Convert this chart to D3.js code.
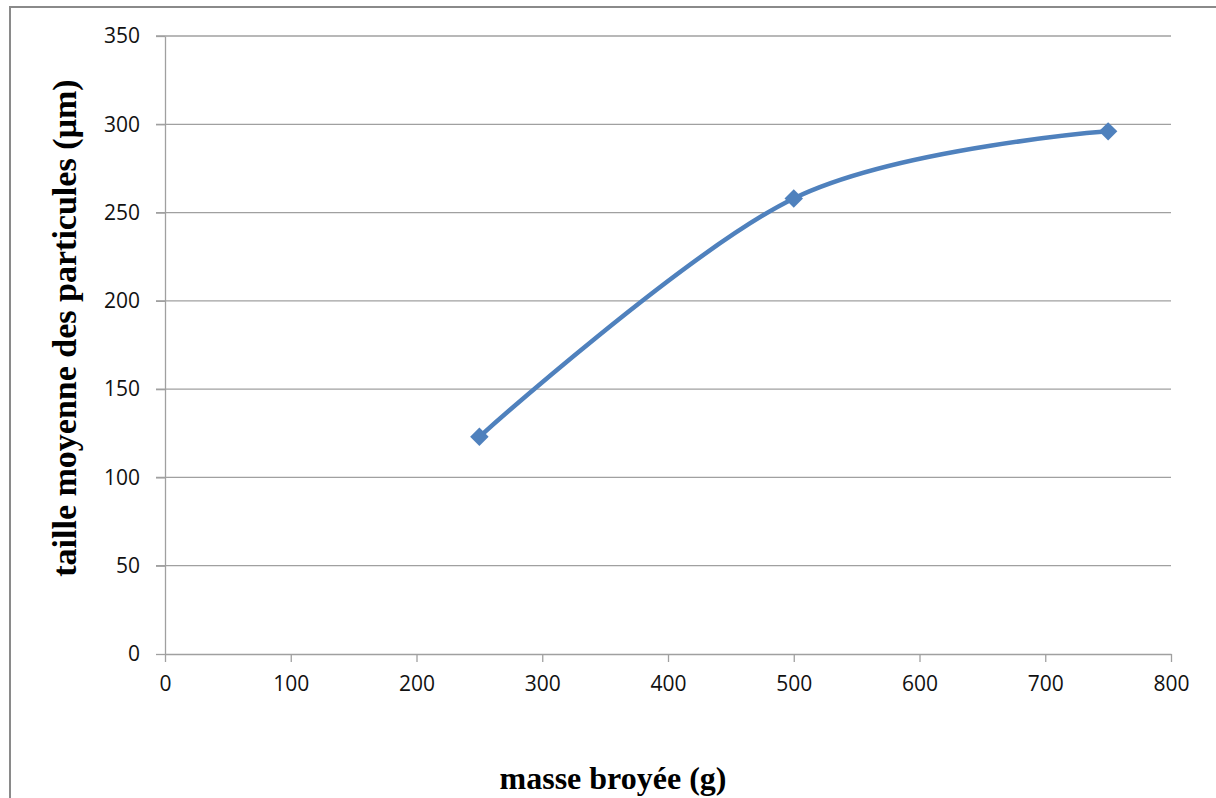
<!DOCTYPE html>
<html>
  <head>
    <meta charset="utf-8">
    <title>masse broyée</title>
    <style media="screen">
      body {margin:0; background:#fff}
      .tick text {font-family: "Open Sans", sans-serif; font-size: 21px; fill: #111}
      .title {font-family: "Liberation Serif", serif; font-weight: bold; fill: #000}
    </style>
  </head>
  <body>
    <script src="https://cdn.jsdelivr.net/npm/d3@7"></script>
    <script type="text/javascript">

    const masse = [250, 500, 750]
    const taille = [123, 258, 296]
    const xTicks = [0, 100, 200, 300, 400, 500, 600, 700, 800]
    const yTicks = [0, 50, 100, 150, 200, 250, 300, 350]

    const W = 1216, H = 798
    const svg = d3.select('body').append('svg')
      .attr('width', W)
      .attr('height', H)

    // chart frame, cut off on the right and bottom
    svg.append('path')
      .attr('d', `M10,${H + 5} V7 H${W + 5}`)
      .attr('fill', 'none')
      .attr('stroke', '#8a8a8a')
      .attr('stroke-width', 2)

    const x = d3.scaleLinear().domain([0, 800]).range([165, 1171])
    const y = d3.scaleLinear().domain([0, 350]).range([654, 36])

    // gridlines
    svg.append('g')
      .selectAll('line')
      .data(yTicks.slice(1))
      .join('line')
      .attr('x1', x(0) - 9)
      .attr('x2', x(800))
      .attr('y1', d => y(d))
      .attr('y2', d => y(d))
      .attr('stroke', '#a0a0a0')
      .attr('stroke-width', 1.3)

    const xAxis = svg.append('g')
      .attr('transform', `translate(0,${y(0)})`)
      .call(d3.axisBottom(x).tickValues(xTicks).tickSize(8).tickPadding(20).tickSizeOuter(0))
    const yAxis = svg.append('g')
      .attr('transform', `translate(${x(0)},0)`)
      .call(d3.axisLeft(y).tickValues(yTicks).tickSize(9).tickPadding(16).tickSizeOuter(0))

    ;[xAxis, yAxis].forEach(a => {
      a.select('.domain').attr('stroke', '#a0a0a0').attr('stroke-width', 1.3)
      a.selectAll('.tick line').attr('stroke', '#a0a0a0').attr('stroke-width', 1.3)
      a.attr('font-family', null).attr('font-size', null)
    })
    xAxis.selectAll('.tick text').attr('dy', '0.45em')

    const pts = masse.map((m, i) => [m, taille[i]])

    const line = d3.line()
      .x(d => x(d[0]))
      .y(d => y(d[1]))
      .curve(d3.curveCardinal.tension(0))

    svg.append('path')
      .attr('d', line(pts))
      .attr('fill', 'none')
      .attr('stroke', '#4f81bd')
      .attr('stroke-width', 4.5)

    svg.append('g')
      .selectAll('path')
      .data(pts)
      .join('path')
      .attr('d', d3.symbol(d3.symbolSquare, 170))
      .attr('transform', d => `translate(${x(d[0])},${y(d[1])}) rotate(45)`)
      .attr('fill', '#4f81bd')

    svg.append('text')
      .attr('class', 'title')
      .attr('text-anchor', 'middle')
      .attr('font-size', 32)
      .attr('x', 613)
      .attr('y', 789)
      .text('masse broyée (g)')

    svg.append('text')
      .attr('class', 'title')
      .attr('text-anchor', 'middle')
      .attr('font-size', 34)
      .attr('transform', 'translate(76,328) rotate(-90)')
      .text('taille moyenne des particules (µm)')

    </script>
  </body>
</html>
